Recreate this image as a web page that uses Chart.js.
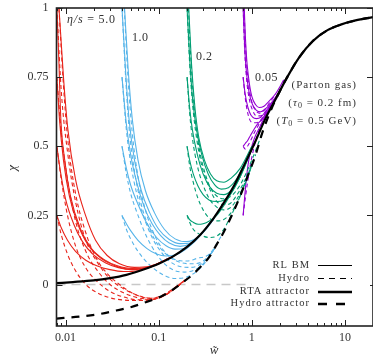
<!DOCTYPE html>
<html>
<head>
<meta charset="utf-8">
<title>chi vs w</title>
<script src="https://cdn.jsdelivr.net/npm/chart.js@4.4.1/dist/chart.umd.min.js"></script>
<style>
  html, body { margin: 0; padding: 0; background: #fff; }
  #wrap { width: 373px; height: 358px; }
</style>
</head>
<body>
<div id="wrap"><canvas id="chiChart" width="373" height="358"></canvas></div>
<script>
// [w~, chi] pairs

var xTickValues = [0.01, 0.1, 1, 10];
var yTickValues = [0, 0.25, 0.5, 0.75, 1];

var rtaAttractor = [[0.008, 0.005], [0.012, 0.009], [0.02, 0.015], [0.03, 0.023], [0.045, 0.035], [0.07, 0.055], [0.1, 0.075], [0.14, 0.1], [0.2, 0.135], [0.28, 0.18], [0.38, 0.235], [0.5, 0.295], [0.65, 0.36], [0.85, 0.44], [1.1, 0.52], [1.4, 0.6], [1.8, 0.67], [2.4, 0.75], [3.2, 0.82], [4.5, 0.88], [6.5, 0.92], [9, 0.94], [13, 0.955], [20, 0.967]];
var hydroAttractor = [[0.008, -0.123], [0.014, -0.116], [0.022, -0.108], [0.035, -0.094], [0.05, -0.082], [0.074, -0.063], [0.1, -0.047], [0.13, -0.027], [0.18, 0.007], [0.23, 0.035], [0.28, 0.063], [0.35, 0.1], [0.42, 0.145], [0.5, 0.19], [0.6, 0.245], [0.75, 0.32], [0.9, 0.39], [1.1, 0.47], [1.3, 0.55], [1.6, 0.63], [2.0, 0.7], [2.4, 0.75], [3.2, 0.82], [4.5, 0.88], [6.5, 0.92], [9, 0.94], [13, 0.955], [20, 0.967]];
var zeroLine = [[0.008, 0], [1.0, 0]];

// eta/s = 5.0
var eta50Kinetic = [
  [[0.00807, 1.15], [0.0085, 1.0], [0.0095, 0.75], [0.0106, 0.56], [0.0128, 0.38], [0.0164, 0.25], [0.021, 0.16], [0.028, 0.105], [0.038, 0.075], [0.055, 0.062], [0.08, 0.066], [0.14, 0.1]],
  [[0.00807, 1], [0.0085, 0.8], [0.0089, 0.6], [0.0098, 0.45], [0.0113, 0.32], [0.0145, 0.2], [0.019, 0.13], [0.026, 0.09], [0.036, 0.068], [0.052, 0.058], [0.08, 0.064], [0.14, 0.1]],
  [[0.00807, 0.75], [0.0086, 0.6], [0.0095, 0.45], [0.011, 0.32], [0.0135, 0.22], [0.0177, 0.14], [0.024, 0.095], [0.033, 0.07], [0.048, 0.056], [0.075, 0.06], [0.14, 0.1]],
  [[0.00807, 0.5], [0.0088, 0.41], [0.01, 0.31], [0.0122, 0.22], [0.0152, 0.155], [0.02, 0.107], [0.027, 0.078], [0.037, 0.061], [0.052, 0.054], [0.08, 0.063], [0.14, 0.1]],
  [[0.00807, 0.25], [0.009, 0.205], [0.0105, 0.16], [0.0128, 0.12], [0.0165, 0.088], [0.022, 0.067], [0.03, 0.054], [0.042, 0.047], [0.06, 0.05], [0.085, 0.066], [0.14, 0.1]]
];
var eta50Hydro = [
  [[0.00807, 1.15], [0.0085, 1.0], [0.0095, 0.72], [0.0106, 0.52], [0.0128, 0.33], [0.0164, 0.19], [0.021, 0.1], [0.028, 0.04], [0.038, 0.0], [0.055, -0.035], [0.08, -0.05], [0.11, -0.038], [0.2, 0.02]],
  [[0.00807, 1], [0.009, 0.7], [0.0105, 0.48], [0.0128, 0.3], [0.0165, 0.16], [0.022, 0.08], [0.03, 0.02], [0.042, -0.015], [0.06, -0.04], [0.085, -0.05], [0.12, -0.036], [0.2, 0.02]],
  [[0.00807, 0.75], [0.009, 0.55], [0.0105, 0.38], [0.0128, 0.23], [0.0165, 0.12], [0.022, 0.05], [0.03, 0.0], [0.042, -0.03], [0.06, -0.048], [0.085, -0.053], [0.12, -0.036], [0.2, 0.02]],
  [[0.00807, 0.5], [0.009, 0.38], [0.0105, 0.25], [0.0128, 0.14], [0.0165, 0.06], [0.022, 0.01], [0.03, -0.025], [0.042, -0.045], [0.06, -0.055], [0.085, -0.055], [0.12, -0.036], [0.2, 0.02]],
  [[0.00807, 0.25], [0.009, 0.18], [0.0105, 0.11], [0.0128, 0.05], [0.0165, 0.0], [0.022, -0.03], [0.03, -0.048], [0.042, -0.056], [0.06, -0.058], [0.085, -0.055], [0.12, -0.036], [0.2, 0.02]]
];

// eta/s = 1.0
var eta10Kinetic = [
  [[0.0404, 1.15], [0.043, 1.0], [0.047, 0.78], [0.052, 0.6], [0.06, 0.45], [0.072, 0.34], [0.09, 0.26], [0.115, 0.2], [0.15, 0.165], [0.2, 0.155], [0.26, 0.17], [0.35, 0.215], [0.5, 0.295]],
  [[0.0404, 1], [0.044, 0.78], [0.048, 0.6], [0.055, 0.45], [0.065, 0.34], [0.08, 0.26], [0.1, 0.2], [0.13, 0.163], [0.17, 0.148], [0.22, 0.15], [0.3, 0.19], [0.4, 0.245]],
  [[0.0404, 0.75], [0.045, 0.58], [0.05, 0.47], [0.058, 0.37], [0.07, 0.28], [0.085, 0.22], [0.105, 0.177], [0.13, 0.15], [0.17, 0.138], [0.22, 0.148], [0.3, 0.19], [0.4, 0.245]],
  [[0.0404, 0.5], [0.045, 0.42], [0.05, 0.36], [0.06, 0.29], [0.075, 0.22], [0.095, 0.17], [0.12, 0.14], [0.15, 0.128], [0.19, 0.13], [0.25, 0.16], [0.3, 0.19], [0.4, 0.245]],
  [[0.0404, 0.25], [0.045, 0.22], [0.05, 0.195], [0.06, 0.16], [0.075, 0.13], [0.095, 0.11], [0.12, 0.103], [0.15, 0.107], [0.19, 0.125], [0.25, 0.16], [0.3, 0.19], [0.4, 0.245]]
];
var eta10Hydro = [
  [[0.0404, 1.15], [0.043, 0.98], [0.047, 0.74], [0.052, 0.55], [0.06, 0.39], [0.072, 0.27], [0.09, 0.18], [0.115, 0.12], [0.15, 0.09], [0.2, 0.085], [0.26, 0.095], [0.35, 0.11], [0.5, 0.19]],
  [[0.0404, 1], [0.044, 0.76], [0.048, 0.57], [0.055, 0.41], [0.065, 0.29], [0.08, 0.2], [0.1, 0.14], [0.13, 0.1], [0.17, 0.08], [0.22, 0.075], [0.3, 0.085], [0.4, 0.13]],
  [[0.0404, 0.75], [0.045, 0.56], [0.05, 0.44], [0.058, 0.33], [0.07, 0.24], [0.085, 0.17], [0.105, 0.12], [0.13, 0.085], [0.17, 0.065], [0.22, 0.062], [0.3, 0.08], [0.4, 0.13]],
  [[0.0404, 0.5], [0.045, 0.4], [0.05, 0.33], [0.06, 0.25], [0.075, 0.17], [0.095, 0.11], [0.12, 0.07], [0.15, 0.05], [0.19, 0.045], [0.25, 0.055], [0.3, 0.075], [0.4, 0.13]],
  [[0.0404, 0.25], [0.045, 0.2], [0.05, 0.165], [0.06, 0.12], [0.075, 0.08], [0.095, 0.05], [0.12, 0.03], [0.15, 0.022], [0.19, 0.025], [0.25, 0.045], [0.3, 0.07], [0.4, 0.13]]
];

// eta/s = 0.2
var eta02Kinetic = [
  [[0.2018, 1.15], [0.21, 1.0], [0.225, 0.8], [0.245, 0.64], [0.27, 0.53], [0.31, 0.45], [0.36, 0.4], [0.42, 0.375], [0.5, 0.37], [0.6, 0.385], [0.75, 0.42], [1.0, 0.5]],
  [[0.2018, 1], [0.215, 0.82], [0.23, 0.68], [0.255, 0.56], [0.29, 0.47], [0.34, 0.4], [0.4, 0.36], [0.47, 0.345], [0.56, 0.35], [0.68, 0.38], [0.85, 0.44], [1.1, 0.52]],
  [[0.2018, 0.75], [0.215, 0.64], [0.23, 0.56], [0.26, 0.47], [0.3, 0.4], [0.35, 0.355], [0.42, 0.33], [0.5, 0.325], [0.6, 0.34], [0.75, 0.39], [1.0, 0.49]],
  [[0.2018, 0.5], [0.215, 0.45], [0.235, 0.4], [0.265, 0.355], [0.3, 0.325], [0.35, 0.305], [0.42, 0.3], [0.5, 0.305], [0.6, 0.33], [0.75, 0.39], [1.0, 0.49]],
  [[0.2018, 0.25], [0.215, 0.235], [0.235, 0.225], [0.265, 0.218], [0.3, 0.22], [0.35, 0.23], [0.42, 0.25], [0.5, 0.285], [0.6, 0.33], [0.75, 0.39]]
];
var eta02Hydro = [
  [[0.2018, 1.15], [0.21, 0.98], [0.225, 0.78], [0.245, 0.61], [0.27, 0.5], [0.31, 0.41], [0.36, 0.35], [0.42, 0.32], [0.5, 0.31], [0.6, 0.32], [0.75, 0.36], [1.0, 0.45], [1.3, 0.55]],
  [[0.2018, 1], [0.215, 0.8], [0.23, 0.66], [0.255, 0.53], [0.29, 0.43], [0.34, 0.36], [0.4, 0.31], [0.47, 0.29], [0.56, 0.29], [0.68, 0.32], [0.85, 0.38], [1.1, 0.47]],
  [[0.2018, 0.75], [0.215, 0.62], [0.23, 0.53], [0.26, 0.43], [0.3, 0.36], [0.35, 0.31], [0.42, 0.28], [0.5, 0.27], [0.6, 0.28], [0.75, 0.33], [1.0, 0.43]],
  [[0.2018, 0.5], [0.215, 0.43], [0.235, 0.37], [0.265, 0.31], [0.3, 0.27], [0.35, 0.24], [0.42, 0.23], [0.5, 0.235], [0.6, 0.26], [0.75, 0.32], [1.0, 0.43]],
  [[0.2018, 0.25], [0.215, 0.225], [0.235, 0.2], [0.265, 0.185], [0.3, 0.175], [0.35, 0.17], [0.42, 0.175], [0.5, 0.2], [0.6, 0.25], [0.75, 0.32], [1.0, 0.43]]
];

// eta/s = 0.05
var eta005Kinetic = [
  [[0.807, 1.15], [0.83, 1.0], [0.87, 0.84], [0.93, 0.74], [1.0, 0.68], [1.1, 0.65], [1.2, 0.64], [1.35, 0.645], [1.5, 0.66], [1.8, 0.69], [2.2, 0.74]],
  [[0.807, 1], [0.84, 0.85], [0.88, 0.76], [0.94, 0.69], [1.02, 0.65], [1.12, 0.63], [1.25, 0.625], [1.4, 0.635], [1.6, 0.655], [2.0, 0.7]],
  [[0.807, 0.75], [0.84, 0.7], [0.88, 0.66], [0.94, 0.625], [1.02, 0.605], [1.12, 0.6], [1.25, 0.605], [1.4, 0.625], [1.6, 0.65], [2.0, 0.7]],
  [[0.807, 0.5], [0.85, 0.51], [0.9, 0.52], [0.97, 0.54], [1.05, 0.56], [1.15, 0.58], [1.3, 0.6], [1.5, 0.63], [1.8, 0.67]],
  [[0.807, 0.25], [0.83, 0.3], [0.86, 0.36], [0.9, 0.42], [0.95, 0.47], [1.02, 0.51], [1.1, 0.54], [1.2, 0.565], [1.35, 0.6], [1.6, 0.645]]
];
var eta005Hydro = [
  [[0.807, 1.15], [0.83, 0.98], [0.87, 0.82], [0.93, 0.72], [1.0, 0.66], [1.1, 0.63], [1.2, 0.62], [1.35, 0.63], [1.5, 0.65], [1.8, 0.69]],
  [[0.807, 1], [0.84, 0.84], [0.88, 0.74], [0.94, 0.67], [1.02, 0.63], [1.12, 0.61], [1.25, 0.61], [1.4, 0.625], [1.6, 0.65], [2.0, 0.7]],
  [[0.807, 0.75], [0.84, 0.69], [0.88, 0.64], [0.94, 0.6], [1.02, 0.585], [1.12, 0.585], [1.25, 0.595], [1.4, 0.62], [1.6, 0.65]],
  [[0.807, 0.5], [0.85, 0.49], [0.9, 0.5], [0.97, 0.52], [1.05, 0.545], [1.15, 0.57], [1.3, 0.6], [1.5, 0.63]],
  [[0.807, 0.25], [0.85, 0.31], [0.9, 0.37], [0.96, 0.43], [1.03, 0.48], [1.1, 0.52], [1.2, 0.56], [1.35, 0.6], [1.6, 0.645]]
];

var etaColors = ["#e8231a", "#56b4e9", "#009e73", "#9400d3"];

(function () {
  var serif = "'Liberation Serif', 'DejaVu Serif', serif";
  var ink = "#333333";

  function pts(arr) {
    return arr.map(function (p) {
      return { x: p[0], y: p[1] };
    });
  }

  function curve(data, color, width, dash) {
    return {
      data: pts(data),
      borderColor: color,
      borderWidth: width,
      borderDash: dash || [],
      pointRadius: 0,
      fill: false,
      tension: 0.4,
      cubicInterpolationMode: "monotone",
    };
  }

  var datasets = [];
  // attractors go first so they are painted on top
  datasets.push(curve(rtaAttractor, "#000", 2.2));
  datasets.push(curve(hydroAttractor, "#000", 2.2, [8, 7]));

  var families = [
    [eta50Kinetic, eta50Hydro],
    [eta10Kinetic, eta10Hydro],
    [eta02Kinetic, eta02Hydro],
    [eta005Kinetic, eta005Hydro],
  ];
  families.forEach(function (fam, i) {
    fam[0].forEach(function (c) {
      datasets.push(curve(c, etaColors[i], 1.1));
    });
    fam[1].forEach(function (c) {
      datasets.push(curve(c, etaColors[i], 1.1, [4, 3]));
    });
  });
  datasets.push(curve(zeroLine, "#c8c8c8", 1.4, [9, 6]));

  function text(ctx, str, x, y, font, align, spacing) {
    ctx.font = font;
    ctx.textAlign = align || "left";
    ctx.textBaseline = "middle";
    ctx.letterSpacing = (spacing || 0) + "px";
    ctx.fillText(str, x, y);
    var w = ctx.measureText(str).width;
    ctx.letterSpacing = "0px";
    return w;
  }

  // "(sym_0 = rest" right aligned at xr
  function drawSub(ctx, pre, sym, sub, rest, xr, y) {
    var f = "11px " + serif;
    var fi = "italic 11px " + serif;
    var fs = "8px " + serif;
    ctx.letterSpacing = "1px";
    ctx.font = f;
    var w1 = ctx.measureText(pre).width;
    var w4 = ctx.measureText(rest).width;
    ctx.font = fi;
    var w2 = ctx.measureText(sym).width;
    ctx.font = fs;
    var w3 = ctx.measureText(sub).width;
    ctx.letterSpacing = "0px";
    var x = xr - (w1 + w2 + w3 + w4);
    text(ctx, pre, x, y, f, "left", 1);
    x += w1;
    text(ctx, sym, x, y, fi, "left", 1);
    x += w2;
    text(ctx, sub, x, y + 3, fs, "left", 1);
    x += w3;
    text(ctx, rest, x, y, f, "left", 1);
  }

  var framePlugin = {
    id: "framePlugin",
    afterDatasetsDraw: function (chart) {
      var ctx = chart.ctx;
      var a = chart.chartArea;
      var xs = chart.scales.x;
      var ys = chart.scales.y;
      ctx.save();

      // box
      ctx.strokeStyle = "#222";
      ctx.lineWidth = 1.6;
      ctx.strokeRect(a.left, a.top, a.right - a.left, a.bottom - a.top);

      // inward ticks
      ctx.lineWidth = 1;
      ctx.beginPath();
      for (var d = 0.001; d < 100; d *= 10) {
        for (var m = 1; m < 10; m++) {
          var v = m * d;
          if (v < xs.min || v > xs.max) continue;
          var px = Math.round(xs.getPixelForValue(v)) + 0.5;
          var len = m === 1 ? 6 : 3;
          ctx.moveTo(px, a.bottom);
          ctx.lineTo(px, a.bottom - len);
          ctx.moveTo(px, a.top);
          ctx.lineTo(px, a.top + len);
        }
      }
      yTickValues.forEach(function (v) {
        var py = Math.round(ys.getPixelForValue(v)) + 0.5;
        ctx.moveTo(a.left, py);
        ctx.lineTo(a.left + 6, py);
        ctx.moveTo(a.right, py);
        ctx.lineTo(a.right - 6, py);
      });
      ctx.stroke();

      // axis titles
      ctx.fillStyle = ink;
      text(ctx, "w\u0303", 214, 351, "italic 13px " + serif, "center");
      ctx.save();
      ctx.translate(13, 168);
      ctx.rotate(-Math.PI / 2);
      text(ctx, "\u03c7", 0, 0, "italic 13px " + serif, "center");
      ctx.restore();

      // eta/s labels
      var x0 = 67;
      x0 += text(ctx, "\u03b7/s", x0, 20, "italic 12px " + serif, "left", 0.8);
      text(ctx, " = 5.0", x0, 20, "12px " + serif, "left", 0.8);
      text(ctx, "1.0", 132, 38, "12px " + serif, "left", 0.5);
      text(ctx, "0.2", 196, 57, "12px " + serif, "left", 0.5);
      text(ctx, "0.05", 255, 78, "12px " + serif, "left", 0.5);

      // system note
      text(ctx, "(Parton gas)", 357, 85, "11px " + serif, "right", 1);
      drawSub(ctx, "(", "\u03c4", "0", " = 0.2 fm)", 357, 103);
      drawSub(ctx, "(", "T", "0", " = 0.5 GeV)", 357, 121);

      // legend
      var rows = [
        { label: "RL BM", y: 265, width: 1.1, dash: [] },
        { label: "Hydro", y: 278, width: 1.1, dash: [6, 5] },
        { label: "RTA attractor", y: 291.5, width: 2.4, dash: [] },
        { label: "Hydro attractor", y: 303.5, width: 2.4, dash: [9, 9] },
      ];
      ctx.fillStyle = "#fff";
      ctx.fillRect(252, 258, 118, 52);
      rows.forEach(function (r) {
        ctx.fillStyle = ink;
        text(ctx, r.label, 310, r.y, "10.5px " + serif, "right", 1);
        ctx.strokeStyle = "#000";
        ctx.lineWidth = r.width;
        ctx.setLineDash(r.dash);
        ctx.beginPath();
        ctx.moveTo(318, r.y + 0.5);
        ctx.lineTo(352, r.y + 0.5);
        ctx.stroke();
      });
      ctx.setLineDash([]);
      ctx.restore();
    },
  };

  function init() {
    var el = document.getElementById("chiChart");
    new Chart(el, {
      type: "line",
      data: { datasets: datasets },
      options: {
        responsive: false,
        animation: false,
        parsing: false,
        normalized: true,
        layout: { padding: { top: 8, right: -2, left: 0, bottom: 0 } },
        plugins: { legend: { display: false }, tooltip: { enabled: false } },
        scales: {
          x: {
            type: "logarithmic",
            min: 0.008,
            max: 20,
            grid: { display: false, drawTicks: false },
            border: { display: false },
            afterBuildTicks: function (scale) {
              scale.ticks = xTickValues.map(function (v) {
                return { value: v };
              });
            },
            afterFit: function (scale) {
              scale.height = 32;
              scale.paddingLeft = 0;
              scale.paddingRight = 0;
            },
            ticks: {
              color: ink,
              padding: 5,
              maxRotation: 0,
              autoSkip: false,
              font: { family: serif, size: 12 },
              callback: function (v) {
                return String(v);
              },
            },
          },
          y: {
            type: "linear",
            min: -0.15,
            max: 1,
            grid: { display: false, drawTicks: false },
            border: { display: false },
            afterBuildTicks: function (scale) {
              scale.ticks = yTickValues.map(function (v) {
                return { value: v };
              });
            },
            afterFit: function (scale) {
              scale.width = 56.5;
              scale.paddingTop = 0;
              scale.paddingBottom = 0;
            },
            ticks: {
              color: ink,
              padding: 8,
              font: { family: serif, size: 12 },
              callback: function (v) {
                return String(v);
              },
            },
          },
        },
      },
      plugins: [framePlugin],
    });
  }

  if (document.readyState === "loading") {
    document.addEventListener("DOMContentLoaded", init);
  } else {
    init();
  }
})();
</script>
</body>
</html>
